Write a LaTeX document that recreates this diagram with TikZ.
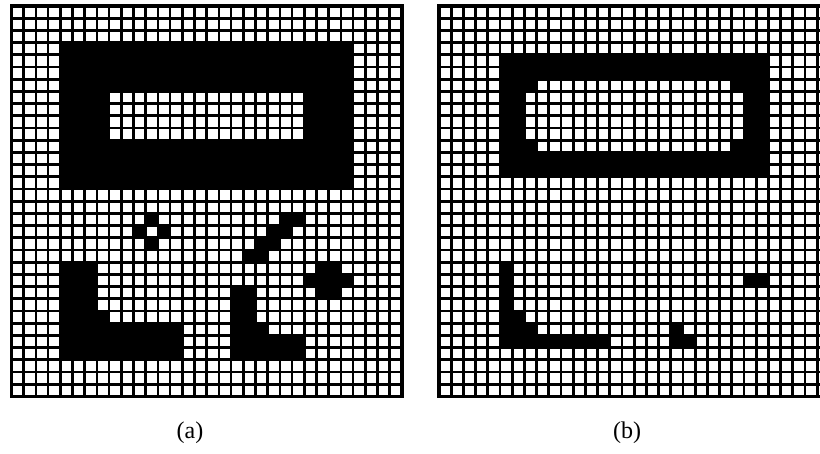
\documentclass[tikz,border=0pt]{standalone}
\usepackage{fontspec}
\setmainfont{Liberation Serif}
\begin{document}
\begin{tikzpicture}[x=1pt,y=1pt,
  gridline/.style={line width=2.7pt,black},
  frameline/.style={line width=3.2pt,black},
  lbl/.style={font=\fontsize{24}{28}\selectfont,inner sep=0pt}]
\useasboundingbox (0,0) rectangle (820,-454);
\fill[white] (0,0) rectangle (820,-454);
% ---------- panel (a) ----------
\begin{scope}[shift={(11.5,-6)},x=12.2pt,y=-12.2pt]
  \fill[black,even odd rule] (4,3) rectangle (28,15) (8,7) rectangle (24,11);
  % ring
  \fill (11,17) rectangle ++(1,1) (10,18) rectangle ++(1,1)
        (12,18) rectangle ++(1,1) (11,19) rectangle ++(1,1);
  % diagonal
  \fill (22,17) rectangle (24,18) (21,18) rectangle (23,19)
        (20,19) rectangle (22,20) (19,20) rectangle (21,21);
  % blob
  \fill (25,21) rectangle (27,22) (24,22) rectangle (28,23) (25,23) rectangle (27,24);
  % L1
  \fill (4,21) -- (7,21) -- (7,25) -- (8,25) -- (8,26) -- (14,26) -- (14,29) -- (4,29) -- cycle;
  % L2
  \fill (18,23) -- (20,23) -- (20,26) -- (21,26) -- (21,27) -- (24,27) -- (24,29) -- (18,29) -- cycle;
  \foreach \i in {1,...,31} {
    \draw[gridline] (\i,0) -- (\i,32);
    \draw[gridline] (0,\i) -- (32,\i);
  }
  \draw[frameline] (0,0) rectangle (32,32);
\end{scope}
% ---------- panel (b) ----------
\begin{scope}[shift={(439,-6)},x=12.2pt,y=-12.2pt]
  \fill[black,even odd rule] (5,4) rectangle (27,14)
     (8,6) -- (24,6) -- (24,7) -- (25,7) -- (25,11) -- (24,11) -- (24,12)
     -- (8,12) -- (8,11) -- (7,11) -- (7,7) -- (8,7) -- cycle;
  % L
  \fill (5,21) -- (6,21) -- (6,25) -- (7,25) -- (7,26) -- (8,26) -- (8,27)
        -- (14,27) -- (14,28) -- (5,28) -- cycle;
  % small corner
  \fill (19,26) -- (20,26) -- (20,27) -- (21,27) -- (21,28) -- (19,28) -- cycle;
  % bar
  \fill (25,22) rectangle (27,23);
  \foreach \i in {1,...,31} {
    \draw[gridline] (\i,0) -- (\i,32);
    \draw[gridline] (0,\i) -- (32,\i);
  }
  \draw[frameline] (0,0) rectangle (32,32);
\end{scope}
\node[lbl] (la) at (190,-433) {(a)};
\node[lbl] (lb) at (627,-433) {(b)};
\end{tikzpicture}
\end{document}
